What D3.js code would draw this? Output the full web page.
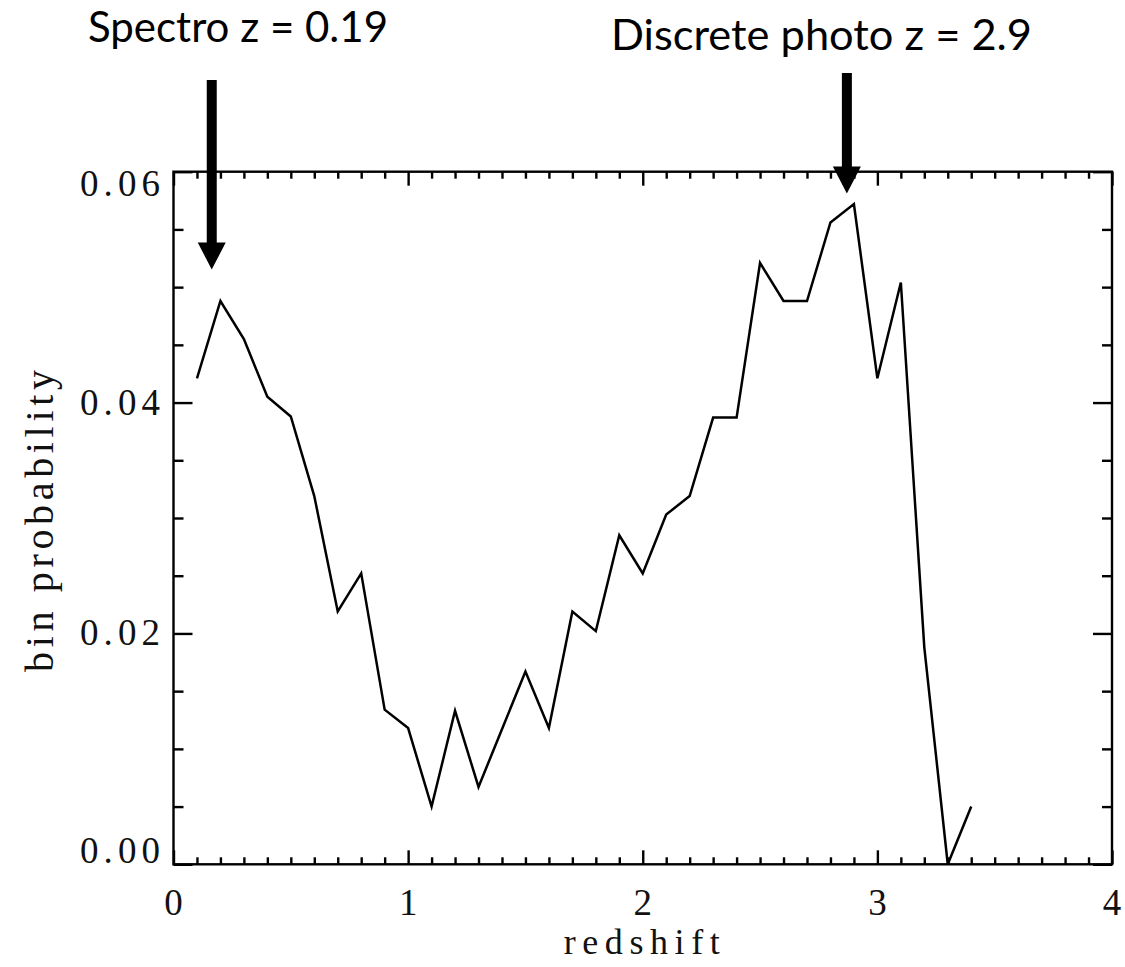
<!DOCTYPE html>
<html>
<head>
<meta charset="utf-8">
<script src="https://cdn.jsdelivr.net/npm/d3@7"></script>
<style>
  html, body { margin: 0; padding: 0; background: #fff; }
  svg { display: block; }
</style>
</head>
<body>
<svg id="chart" width="1125" height="967"></svg>
<script>
// ---- data ----
const redshift = [0.1,0.2,0.3,0.4,0.5,0.6,0.7,0.8,0.9,1.0,1.1,1.2,1.3,1.4,1.5,1.6,1.7,1.8,1.9,2.0,2.1,2.2,2.3,2.4,2.5,2.6,2.7,2.8,2.9,3.0,3.1,3.2,3.3,3.4];
const binProb  = [0.0421,0.0488,0.0455,0.0405,0.0388,0.0319,0.0219,0.0252,0.0134,0.0118,0.0050,0.0133,0.0067,0.0117,0.0167,0.0118,0.0219,0.0202,0.0285,0.0252,0.0303,0.0319,0.0387,0.0387,0.0521,0.0488,0.0488,0.0556,0.0572,0.0421,0.0504,0.0188,0.0000,0.0050];
const xMajorTicks = [0,1,2,3,4];
const yMajorTicks = [0.00,0.02,0.04,0.06];
const yTickLabels = ["0.00","0.02","0.04","0.06"];
const annotationText = ["Spectro z = 0.19","Discrete photo z = 2.9"];
const arrowZ = [0.163, 2.87];

// ---- layout ----
const L = 173.5, R = 1112, T = 171.7, B = 864.3;
const svg = d3.select("#chart");
const x = d3.scaleLinear().domain([0,4]).range([L,R]);
const y = d3.scaleLinear().domain([0,0.06]).range([B,T]);

const xMinor = d3.range(0, 4.0001, 0.1).filter(v => Math.abs(v - Math.round(v)) > 1e-6);
const yMinor = d3.range(0, 0.0600001, 0.005).filter(v => Math.abs(v/0.02 - Math.round(v/0.02)) > 1e-6);

function styleAxis(g){
  g.select(".domain").remove();
  g.selectAll(".tick line").attr("stroke","#000").attr("stroke-width",2.4);
}

// minor + major ticks on all four sides (inward)
svg.append("g").attr("transform",`translate(0,${B})`)
  .call(d3.axisBottom(x).tickValues(xMinor).tickSize(-7).tickFormat("")).call(styleAxis);
svg.append("g").attr("transform",`translate(0,${B})`)
  .call(d3.axisBottom(x).tickValues(xMajorTicks).tickSize(-14).tickFormat("")).call(styleAxis);
svg.append("g").attr("transform",`translate(0,${T})`)
  .call(d3.axisTop(x).tickValues(xMinor).tickSize(-7).tickFormat("")).call(styleAxis);
svg.append("g").attr("transform",`translate(0,${T})`)
  .call(d3.axisTop(x).tickValues(xMajorTicks).tickSize(-14).tickFormat("")).call(styleAxis);
svg.append("g").attr("transform",`translate(${L},0)`)
  .call(d3.axisLeft(y).tickValues(yMinor).tickSize(-10).tickFormat("")).call(styleAxis);
svg.append("g").attr("transform",`translate(${L},0)`)
  .call(d3.axisLeft(y).tickValues(yMajorTicks).tickSize(-19).tickFormat("")).call(styleAxis);
svg.append("g").attr("transform",`translate(${R},0)`)
  .call(d3.axisRight(y).tickValues(yMinor).tickSize(-10).tickFormat("")).call(styleAxis);
svg.append("g").attr("transform",`translate(${R},0)`)
  .call(d3.axisRight(y).tickValues(yMajorTicks).tickSize(-19).tickFormat("")).call(styleAxis);

// frame
svg.append("rect").attr("x",L).attr("y",T).attr("width",R-L).attr("height",B-T)
  .attr("fill","none").attr("stroke","#000").attr("stroke-width",2.4);

const serif = "'Liberation Serif', 'DejaVu Serif', serif";

// tick labels
svg.append("g").selectAll("text").data(xMajorTicks).join("text")
  .attr("x", d => x(d)).attr("y", B + 51)
  .attr("text-anchor","middle")
  .attr("font-family", serif).attr("font-size", 37).attr("fill","#111")
  .text(d => String(d));
svg.append("g").selectAll("text").data(yMajorTicks).join("text")
  .attr("x", 160).attr("y", d => Math.max(T + 24, Math.min(B - 1, y(d) + 12)))
  .attr("text-anchor","end")
  .attr("font-family", serif).attr("font-size", 37).attr("fill","#111")
  .attr("textLength", 80).attr("lengthAdjust","spacing")
  .text((d,i) => yTickLabels[i]);

// axis titles
svg.append("text")
  .attr("x", (L+R)/2 - 1).attr("y", 954)
  .attr("text-anchor","middle")
  .attr("font-family", serif).attr("font-size", 36).attr("fill","#111")
  .attr("textLength", 156).attr("lengthAdjust","spacing")
  .text("redshift");
svg.append("text")
  .attr("transform", `translate(53, ${(T+B)/2 + 3}) rotate(-90)`)
  .attr("text-anchor","middle")
  .attr("font-family", serif).attr("font-size", 40).attr("fill","#111")
  .attr("textLength", 302).attr("lengthAdjust","spacing")
  .text("bin probability");

// data line
const line = d3.line().x((d,i) => x(redshift[i])).y(d => y(d));
svg.append("path").datum(binProb)
  .attr("d", line)
  .attr("fill","none").attr("stroke","#000").attr("stroke-width",2.5)
  .attr("stroke-linejoin","miter");

// annotations: arrows + text
const sans = "Lato, 'Open Sans', sans-serif";
const arrowTop = [80, 73];
const arrowTip = [269.5, 193.5];
const headH = 27, headW = 28, shaftW = 10;
arrowZ.forEach((z,i) => {
  const cx = x(z);
  svg.append("rect").attr("x", cx - shaftW/2).attr("y", arrowTop[i])
    .attr("width", shaftW).attr("height", arrowTip[i] - headH - arrowTop[i] + 1)
    .attr("fill","#000");
  svg.append("path")
    .attr("d", `M${cx-headW/2},${arrowTip[i]-headH} L${cx+headW/2},${arrowTip[i]-headH} L${cx},${arrowTip[i]} Z`)
    .attr("fill","#000");
});
const annX = [88, 611], annY = [42, 50], annW = [300, 421];
annotationText.forEach((t,i) => {
  svg.append("text")
    .attr("x", annX[i]).attr("y", annY[i])
    .attr("font-family", sans).attr("font-size", 43).attr("font-weight", 400).attr("fill","#000")
    .attr("textLength", annW[i]).attr("lengthAdjust","spacingAndGlyphs")
    .text(t);
});
</script>
</body>
</html>
